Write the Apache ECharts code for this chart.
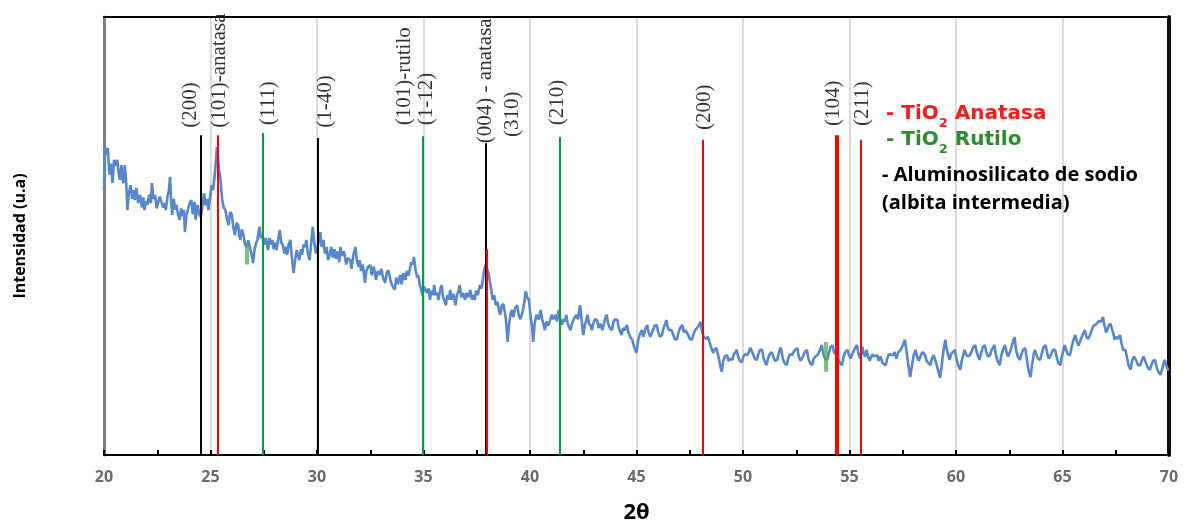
<!DOCTYPE html>
<html>
<head>
<meta charset="utf-8">
<script src="https://cdn.jsdelivr.net/npm/echarts@6/dist/echarts.min.js"></script>
<style>
html,body{margin:0;padding:0;background:#fff;}
#chart{width:1185px;height:529px;}
</style>
</head>
<body>
<div id="chart"></div>
<script>
// ---- data: [2θ, intensidad (u.a.)] ----
const xrdPattern = [
[20.00,60.5],[20.05,70.3],[20.12,68.5],[20.18,70.1],[20.25,64],[20.32,66.5],[20.40,62.1],[20.47,67.4],
[20.55,66],[20.62,67.4],[20.70,63.9],[20.75,62.8],[20.82,66.2],[20.90,62],[20.98,66.2],[21.05,61.6],
[21.10,55.9],[21.17,60],[21.25,61.6],[21.32,58.5],[21.40,60.5],[21.45,58.2],[21.52,61],[21.60,57.5],
[21.70,59.4],[21.78,56.5],[21.85,58.8],[21.90,55.9],[21.97,58],[22.05,57.1],[22.12,59.5],[22.20,57.5],
[22.25,62.1],[22.32,58.5],[22.40,59.4],[22.47,56.3],[22.55,55.9],[22.62,59],[22.70,59.4],[22.78,56.5],
[22.85,57.5],[22.90,55.9],[22.98,59],[23.05,60.5],[23.10,63.5],[23.15,58],[23.20,54.8],[23.27,58.5],
[23.35,56],[23.40,57.1],[23.47,55],[23.55,53.7],[23.62,56.3],[23.70,54.5],[23.75,56],[23.80,50.9],
[23.87,54.8],[23.95,54.8],[24.02,57.5],[24.10,58.2],[24.17,55],[24.25,57.8],[24.30,53.7],[24.37,56.3],
[24.40,57.1],[24.47,55],[24.55,54.3],[24.62,56.8],[24.70,59.8],[24.77,57],[24.85,58.5],[24.90,55.9],
[24.97,58.5],[25.05,61.6],[25.12,60.5],[25.20,63.9],[25.25,67],[25.30,70.3],[25.35,68],[25.40,65],
[25.45,63.9],[25.50,61],[25.55,58.2],[25.62,56.5],[25.70,55.9],[25.77,54],[25.85,52.5],[25.92,55.5],
[26.00,54.8],[26.07,52],[26.15,50.2],[26.22,53],[26.30,52.5],[26.35,50],[26.40,49.1],[26.47,51.5],
[26.55,50.2],[26.62,48],[26.70,47.5],[26.77,49],[26.85,49.1],[26.92,46],[27.00,43.8],[27.07,47],
[27.15,48.5],[27.20,49.1],[27.30,52.1],[27.37,49.5],[27.45,50.2],[27.52,48],[27.60,49.5],[27.70,46.8],
[27.77,49.5],[27.85,48],[27.90,49.1],[27.97,47],[28.05,48.5],[28.10,46.8],[28.17,49],[28.25,51.4],
[28.32,48.5],[28.40,47.9],[28.47,46],[28.55,47.5],[28.60,45.7],[28.67,48],[28.75,49.1],[28.82,45],
[28.90,41.6],[28.97,44.5],[29.05,46.8],[29.10,46.8],[29.17,44.5],[29.25,47],[29.30,45.7],[29.37,48],
[29.45,47.5],[29.50,49.1],[29.57,46],[29.65,44.5],[29.72,48],[29.80,52.1],[29.87,48.5],[29.95,46],
[30.00,45.7],[30.07,48.5],[30.15,50.9],[30.22,47.5],[30.30,49.1],[30.37,46],[30.45,47.5],[30.52,44.5],
[30.60,45.7],[30.67,47.5],[30.75,45],[30.82,47],[30.90,44.8],[30.97,46.5],[31.05,44],[31.10,47.5],
[31.17,45.5],[31.25,46.5],[31.30,45.7],[31.37,43.5],[31.45,45],[31.55,44.5],[31.62,42.5],[31.70,45.5],
[31.80,47.5],[31.87,44.5],[31.95,43],[32.00,44.5],[32.07,42],[32.15,43.5],[32.25,39.3],[32.32,42],
[32.40,43],[32.50,43.4],[32.57,41],[32.65,43],[32.70,42.2],[32.77,40],[32.85,42],[32.95,41.1],
[33.02,42.5],[33.10,40.5],[33.20,39.3],[33.27,41.5],[33.35,42.2],[33.40,42.2],[33.47,39.5],[33.55,38.5],
[33.65,37.7],[33.72,40.5],[33.80,39],[33.90,41.1],[33.97,39],[34.05,41.5],[34.15,40.0],[34.22,42],
[34.30,41],[34.35,42.2],[34.42,44],[34.50,43.5],[34.55,45.2],[34.62,42.5],[34.70,40.5],[34.75,41.1],
[34.82,39],[34.90,37.5],[34.95,36.5],[35.02,38.5],[35.10,38.8],[35.17,37],[35.25,38],[35.30,35.4],
[35.37,37.5],[35.45,36.5],[35.50,38.8],[35.57,36.5],[35.65,37],[35.70,35.4],[35.77,37.5],[35.85,38.8],
[35.92,36],[36.00,35],[36.05,34.2],[36.12,36.5],[36.20,35.5],[36.25,37.7],[36.32,35.5],[36.40,36.8],
[36.50,34.2],[36.57,36.5],[36.65,37.5],[36.70,38.8],[36.77,36],[36.85,37],[36.95,35.4],[37.02,37],
[37.10,36],[37.20,37.7],[37.27,35.5],[37.35,36.5],[37.40,35.4],[37.47,37.5],[37.55,36.5],[37.65,38.8],
[37.72,38],[37.80,40.5],[37.85,42.2],[37.92,43.4],[38.00,43.8],[38.05,41.5],[38.10,41.1],[38.17,38],
[38.25,35.4],[38.32,36.5],[38.40,34.2],[38.47,35],[38.55,33],[38.60,32.0],[38.67,34],[38.75,34.5],
[38.80,34.2],[38.87,31],[38.95,25.8],[39.02,30],[39.10,32.5],[39.15,33.1],[39.22,31.5],[39.30,33.5],
[39.40,34.2],[39.47,32],[39.55,31],[39.60,30.8],[39.67,33],[39.75,35.5],[39.80,37.4],[39.87,36],
[39.95,35.4],[40.02,32],[40.10,29],[40.15,25.8],[40.22,30],[40.30,32],[40.35,32.0],[40.42,31],
[40.50,33.1],[40.57,31],[40.65,29.5],[40.70,28.5],[40.77,30.5],[40.85,29.5],[40.95,30.8],[41.02,32],
[41.10,31],[41.20,32.0],[41.27,30.5],[41.35,33.1],[41.42,31],[41.50,29.7],[41.57,31],[41.65,30.5],
[41.70,32.0],[41.77,30],[41.85,29],[41.90,28.5],[41.97,30],[42.05,31],[42.10,30.8],[42.17,32],
[42.25,31],[42.35,34.2],[42.42,31],[42.50,27.4],[42.57,29.5],[42.65,31],[42.70,32.0],[42.77,30],
[42.85,29.5],[42.90,28.5],[42.97,30],[43.05,31],[43.15,30.8],[43.22,29],[43.30,30],[43.40,28.5],
[43.47,30],[43.55,31.5],[43.60,32.0],[43.67,30],[43.75,29],[43.85,28.5],[43.92,30.5],[44.00,31],
[44.10,30.8],[44.17,29],[44.25,28],[44.30,27.4],[44.37,29],[44.45,28.5],[44.55,29.7],[44.62,28],
[44.70,27],[44.80,26.3],[44.87,25],[44.95,24],[45.00,23.3],[45.07,26],[45.15,27.5],[45.25,28.5],
[45.32,27],[45.40,28.5],[45.50,29.7],[45.57,28],[45.65,27],[45.70,27.4],[45.77,28.5],[45.85,29.5],
[45.95,29.7],[46.02,28],[46.10,27],[46.20,27.4],[46.27,29],[46.35,30],[46.40,30.8],[46.47,29],
[46.55,28.5],[46.65,28.5],[46.72,27.5],[46.80,26.5],[46.90,26.3],[46.97,28],[47.05,29],[47.15,29.7],
[47.22,28],[47.30,28.5],[47.35,28.5],[47.42,27.5],[47.50,26.5],[47.60,26.3],[47.67,27.5],[47.75,28.5],
[47.85,29.0],[47.92,29.5],[48.00,30.4],[48.07,28.5],[48.15,27],[48.20,27.4],[48.27,26.5],[48.35,27],
[48.40,26.3],[48.47,25],[48.55,24],[48.60,23.3],[48.67,24],[48.75,24.5],[48.80,24.7],[48.87,22],
[48.95,20],[49.00,19.0],[49.07,21.5],[49.15,22.5],[49.25,22.8],[49.32,21.5],[49.40,22],[49.50,21.7],
[49.57,23],[49.65,23.5],[49.70,24.0],[49.77,22.5],[49.85,21.5],[49.95,21.2],[50.02,22.5],[50.10,23],
[50.20,22.8],[50.27,23.5],[50.35,24.5],[50.40,24.7],[50.47,23],[50.55,22],[50.65,21.7],[50.72,23],
[50.80,24],[50.90,24.0],[50.97,22],[51.05,21],[51.10,20.5],[51.17,22],[51.25,23],[51.35,23.5],
[51.42,22.5],[51.50,21.5],[51.60,21.7],[51.67,23],[51.75,24.5],[51.80,24.0],[51.87,22],[51.95,21],
[52.05,20.5],[52.12,22],[52.20,23],[52.30,22.8],[52.37,23.5],[52.45,24],[52.55,24.4],[52.62,22.5],
[52.70,21.5],[52.75,21.2],[52.82,22.5],[52.90,23.5],[53.00,24.0],[53.07,22],[53.15,21],[53.25,20.5],
[53.32,22],[53.40,22.5],[53.50,22.8],[53.57,23.5],[53.65,24.5],[53.70,25.1],[53.77,23],[53.85,22],
[53.95,21.7],[54.02,23],[54.10,24.5],[54.20,25.1],[54.27,23.5],[54.35,23],[54.40,23.5],[54.47,22],
[54.55,21],[54.65,20.5],[54.72,22.5],[54.80,23.5],[54.90,24.0],[54.97,23],[55.05,22],[55.10,22.1],
[55.17,23.5],[55.27,24.5],[55.35,25.1],[55.42,23],[55.50,22],[55.60,24.7],[55.67,23],[55.75,22.5],
[55.80,24.0],[55.87,22.5],[55.95,21.5],[56.00,21.7],[56.07,23],[56.15,22.5],[56.30,22.8],[56.37,21.5],
[56.45,22.5],[56.55,21],[56.70,20.5],[56.77,22],[56.85,23],[57.05,22.8],[57.12,23.5],[57.20,22],
[57.30,23.5],[57.40,24.0],[57.50,25],[57.60,26.3],[57.67,24],[57.75,21],[57.85,17.8],[57.92,20],
[58.00,22.5],[58.10,24.0],[58.17,22.5],[58.25,21.5],[58.30,21.7],[58.37,23],[58.45,23.5],[58.55,22.8],
[58.62,21.5],[58.70,21],[58.80,20.5],[58.87,22],[58.95,22.8],[59.00,22.8],[59.07,21],[59.15,19.5],
[59.25,17.6],[59.32,20],[59.40,23.5],[59.50,26.3],[59.57,24],[59.65,22.5],[59.70,21.7],[59.77,23],
[59.85,23.5],[59.95,24.0],[60.02,22],[60.10,20.5],[60.20,19.4],[60.27,21.5],[60.35,23],[60.40,24.0],
[60.47,23],[60.55,22.5],[60.65,22.8],[60.72,23.5],[60.80,24.5],[60.90,25.1],[60.97,23.5],[61.05,22.5],
[61.10,21.7],[61.17,23],[61.25,24.5],[61.35,25.1],[61.42,23.5],[61.50,22.5],[61.60,22.8],[61.67,24],
[61.75,24.5],[61.80,25.1],[61.87,23],[61.95,21.5],[62.05,20.5],[62.12,22.5],[62.20,24],[62.30,25.1],
[62.37,23.5],[62.45,22.5],[62.50,22.8],[62.57,24],[62.65,25.5],[62.75,26.9],[62.82,24],[62.90,22.5],
[63.00,21.7],[63.07,23],[63.15,24],[63.25,24.4],[63.32,22],[63.40,19.5],[63.50,17.8],[63.57,20.5],
[63.65,23],[63.70,24.0],[63.77,23],[63.85,22],[63.95,21.7],[64.02,23],[64.10,24.5],[64.20,25.1],
[64.27,23.5],[64.35,22],[64.40,21.7],[64.47,23],[64.55,24],[64.65,24.0],[64.72,22.5],[64.80,21],
[64.90,20.5],[64.97,22.5],[65.05,24],[65.10,25.1],[65.17,24],[65.25,23],[65.35,22.8],[65.42,24.5],
[65.50,26],[65.60,27.4],[65.67,26],[65.75,25],[65.80,25.1],[65.87,26.5],[65.95,27.5],[66.05,28.5],
[66.12,27],[66.20,26.5],[66.30,27.4],[66.37,28.5],[66.45,29.5],[66.55,29.7],[66.62,30],[66.70,30.5],
[66.75,30.8],[66.82,30.5],[66.90,31.5],[66.97,29.5],[67.05,28],[67.10,28.5],[67.17,29.5],[67.25,30],
[67.30,30.4],[67.37,28],[67.45,26.3],[67.52,27],[67.60,26.5],[67.70,27.4],[67.77,25.5],[67.85,24],
[67.95,24.0],[68.02,22.5],[68.10,20.5],[68.20,19.5],[68.27,21.5],[68.35,22.5],[68.40,22.8],[68.47,21.5],
[68.55,20.5],[68.65,20.5],[68.72,21.5],[68.80,22.5],[68.85,22.8],[68.92,21],[69.00,20],[69.10,19.4],
[69.17,20.5],[69.25,21.5],[69.35,21.7],[69.42,20],[69.50,19],[69.60,18.3],[69.67,19.5],[69.75,21],
[69.80,21.7],[69.87,20.5],[69.95,19.5],[70.00,19.4]
];

// reference peak positions (2θ) and drawn heights (u.a.)
const anatasaPeaks  = [25.35, 37.95, 48.1, 54.4, 55.55];
const anatasaTops   = [73, 47, 72, 73, 72];
const rutiloPeaks   = [27.45, 34.95, 41.4];
const rutiloTops    = [73.5, 72.8, 72.6];
const albitaPeaks   = [24.55, 30.05, 34.98, 37.9];
const albitaTops    = [73, 72.4, 43.4, 71.2];
// small rutilo traces on the pattern
const rutiloTraceX    = [26.7, 53.9];
const rutiloTraceLow  = [43.5, 19.0];
const rutiloTraceHigh = [48.0, 25.8];

// Miller-index annotations
const peakLabels    = ['(200)', '(101)-anatasa', '(111)', '(1-40)', '(101)-rutilo', '(1-12)',
                       '(004) - anatasa', '(310)', '(210)', '(200)', '(104)', '(211)'];
const peakLabelX    = [24.04, 25.4, 27.7, 30.38, 34.13, 35.16, 37.93, 39.2, 41.31, 48.17, 54.27, 55.63];
const peakLabelY    = [74.7, 74.7, 75.3, 74.7, 75.3, 75.3, 71.2, 72.6, 75.3, 74.2, 75.1, 75.1];

const xTickMin = 20, xTickMax = 70, xTickStep = 5;

// ---- chart ----
function vLines(xs, lows, tops, widthFn) {
  return xs.map((x, i) => [
    {coord: [x, lows ? lows[i] : 0], lineStyle: {width: widthFn ? widthFn(i) : 2}},
    {coord: [x, tops[i]]}
  ]);
}

const chart = echarts.init(document.getElementById('chart'));
chart.setOption({
  animation: false,
  backgroundColor: '#ffffff',
  grid: {left: 104, right: 16, top: 17, bottom: 74},
  xAxis: [{
    type: 'value', min: xTickMin, max: xTickMax, interval: xTickStep, position: 'bottom',
    name: '2θ', nameLocation: 'middle', nameGap: 47,
    nameTextStyle: {fontFamily: 'Open Sans', fontWeight: 'bold', fontSize: 22, color: '#000'},
    axisLine: {show: true, onZero: false, lineStyle: {color: '#000', width: 2}},
    axisTick: {show: true, inside: true, length: 5, lineStyle: {color: '#000', width: 2}},
    minorTick: {show: true, splitNumber: 2, length: 5, lineStyle: {color: '#000', width: 2}},
    splitLine: {show: true, lineStyle: {color: '#dcdcdc', width: 2}},
    axisLabel: {color: '#6b6b6b', fontFamily: 'Open Sans', fontWeight: 'bold', fontSize: 16, margin: 14}
  }, {
    type: 'value', min: xTickMin, max: xTickMax, interval: xTickStep, position: 'top',
    axisLine: {show: true, onZero: false, lineStyle: {color: '#000', width: 2}},
    axisTick: {show: false}, axisLabel: {show: false}, splitLine: {show: false}
  }],
  yAxis: [{
    type: 'value', min: 0, max: 100, position: 'left',
    name: 'Intensidad (u.a)', nameLocation: 'middle', nameRotate: 90, nameGap: 76,
    nameTextStyle: {fontFamily: 'Open Sans', fontWeight: 'bold', fontSize: 16, color: '#000'},
    axisLine: {show: true, onZero: false, lineStyle: {color: '#7f7f7f', width: 3}},
    axisTick: {show: false}, axisLabel: {show: false}, splitLine: {show: false}
  }, {
    type: 'value', min: 0, max: 100, position: 'right',
    axisLine: {show: true, onZero: false, lineStyle: {color: '#111', width: 4}},
    axisTick: {show: false}, axisLabel: {show: false}, splitLine: {show: false}
  }],
  series: [
    {
      name: 'Patrón DRX', type: 'line', data: xrdPattern, showSymbol: false, z: 2,
      lineStyle: {color: '#5787cf', width: 2.6}
    },
    {
      name: 'Trazas rutilo', type: 'line', data: [], z: 3,
      markLine: {silent: true, symbol: ['none', 'none'], label: {show: false},
        lineStyle: {color: '#4caf50', opacity: 0.75, type: 'solid', width: 4},
        data: rutiloTraceX.map((x, i) => [{coord: [x, rutiloTraceLow[i]]}, {coord: [x, rutiloTraceHigh[i]]}])}
    },
    {
      name: 'Aluminosilicato de sodio', type: 'line', data: [], z: 3,
      markLine: {silent: true, symbol: ['none', 'none'], label: {show: false},
        lineStyle: {color: '#000', type: 'solid', width: 2},
        data: vLines(albitaPeaks, null, albitaTops)}
    },
    {
      name: 'TiO2 Rutilo', type: 'line', data: [], z: 4,
      markLine: {silent: true, symbol: ['none', 'none'], label: {show: false},
        lineStyle: {color: '#00a33a', type: 'solid', width: 2},
        data: vLines(rutiloPeaks, null, rutiloTops)}
    },
    {
      name: 'TiO2 Anatasa', type: 'line', data: [], z: 5,
      markLine: {silent: true, symbol: ['none', 'none'], label: {show: false},
        lineStyle: {color: '#ff0000', type: 'solid', width: 2},
        data: vLines(anatasaPeaks, null, anatasaTops, i => (anatasaPeaks[i] === 54.4 ? 4 : 2))}
    },
    {
      name: 'Índices', type: 'scatter', symbolSize: 0, z: 6, silent: true,
      data: peakLabels.map((t, i) => ({name: t, value: [peakLabelX[i], peakLabelY[i]]})),
      label: {show: true, formatter: '{b}', position: [0, 0], rotate: 90,
        align: 'left', verticalAlign: 'middle',
        fontFamily: 'Liberation Serif', fontSize: 21, color: '#000'}
    }
  ],
  graphic: [{
    type: 'text', left: 886, top: 104, z: 10,
    style: {
      text: '{n|- TiO}{s|2}{n| Anatasa}',
      rich: {
        n: {fontFamily: 'DejaVu Sans', fontWeight: 'bold', fontSize: 20, fill: '#ff1a1a', lineHeight: 24, verticalAlign: 'bottom'},
        s: {fontFamily: 'DejaVu Sans', fontWeight: 'bold', fontSize: 13, fill: '#ff1a1a', lineHeight: 16, verticalAlign: 'bottom', padding: [0, 0, -6, 0]}
      }
    }
  }, {
    type: 'text', left: 886, top: 130, z: 10,
    style: {
      text: '{n|- TiO}{s|2}{n| Rutilo}',
      rich: {
        n: {fontFamily: 'DejaVu Sans', fontWeight: 'bold', fontSize: 20, fill: '#2e8b2e', lineHeight: 24, verticalAlign: 'bottom'},
        s: {fontFamily: 'DejaVu Sans', fontWeight: 'bold', fontSize: 13, fill: '#2e8b2e', lineHeight: 16, verticalAlign: 'bottom', padding: [0, 0, -6, 0]}
      }
    }
  }, {
    type: 'text', left: 882, top: 161, z: 10,
    style: {
      text: '- Aluminosilicato de sodio\n(albita intermedia)',
      fontFamily: 'Open Sans', fontWeight: 'bold', fontSize: 20, lineHeight: 28, fill: '#000'
    }
  }]
});
</script>
</body>
</html>
